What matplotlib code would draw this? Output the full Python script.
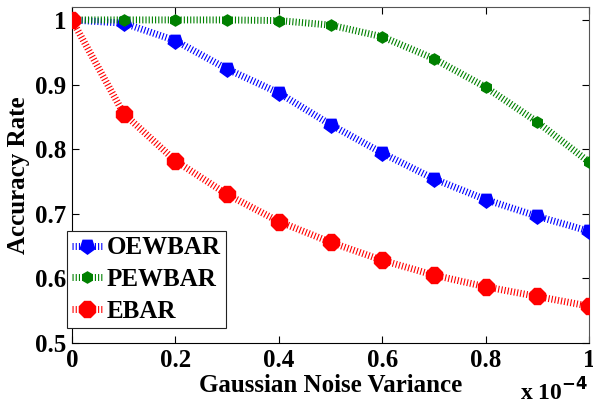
import matplotlib
matplotlib.use("Agg")
import matplotlib.pyplot as plt

# Accuracy rate against Gaussian noise variance (x 1e-4)
noise_var = [0.0, 0.1, 0.2, 0.3, 0.4, 0.5, 0.6, 0.7, 0.8, 0.9, 1.0]
oewbar = [1.000, 0.995, 0.968, 0.924, 0.887, 0.838, 0.794, 0.754, 0.722, 0.696, 0.673]
pewbar = [1.000, 1.000, 1.000, 1.000, 0.999, 0.992, 0.974, 0.940, 0.896, 0.842, 0.780]
ebar = [1.000, 0.855, 0.782, 0.730, 0.688, 0.656, 0.628, 0.605, 0.587, 0.572, 0.557]

x_ticks = [0, 0.2, 0.4, 0.6, 0.8, 1.0]
x_ticklabels = ["0", "0.2", "0.4", "0.6", "0.8", "1"]
y_ticks = [0.5, 0.6, 0.7, 0.8, 0.9, 1.0]
y_ticklabels = ["0.5", "0.6", "0.7", "0.8", "0.9", "1"]

plt.rcParams["font.family"] = ["Liberation Serif", "DejaVu Serif"]
plt.rcParams["font.weight"] = "bold"

fig = plt.figure(figsize=(5.93, 4.12), dpi=100)
ax = fig.add_axes([0.1214, 0.1675, 0.872, 0.8155])

dots = (0, (0.16, 0.3))
ax.plot(noise_var, oewbar, color="#0000ff", linestyle=dots, linewidth=5,
        dash_capstyle="butt", marker=(5, 0, 180), markersize=11,
        label="OEWBAR", zorder=3)
ax.plot(noise_var, pewbar, color="#008000", linestyle=dots, linewidth=5,
        dash_capstyle="butt", marker="h", markersize=8,
        label="PEWBAR", zorder=3)
ax.plot(noise_var, ebar, color="#ff0000", linestyle=dots, linewidth=5,
        dash_capstyle="butt", marker="8", markersize=12,
        label="EBAR", zorder=3)

ax.set_xlim(0, 1.0)
ax.set_ylim(0.5, 1.02)
ax.set_xticks(x_ticks)
ax.set_xticklabels(x_ticklabels)
ax.set_yticks(y_ticks)
ax.set_yticklabels(y_ticklabels)
ax.tick_params(direction="in", top=True, right=True, length=5,
               labelsize=18, pad=4, width=0.8)
for lbl in ax.get_xticklabels() + ax.get_yticklabels():
    lbl.set_fontweight("bold")
for side in ("top", "right"):
    ax.spines[side].set_color("#555555")

ax.set_xlabel("Gaussian Noise Variance", fontsize=18, fontweight="bold",
              labelpad=2)
ax.set_ylabel("Accuracy Rate", fontsize=18, fontweight="bold", labelpad=4)
fig.text(0.992, 0.028, r"x 10$^{\mathbf{-4}}$", ha="right", va="baseline",
         fontsize=17, fontweight="bold")

leg = ax.legend(loc="lower left", bbox_to_anchor=(-0.01, 0.045),
                fontsize=18, frameon=True, fancybox=False,
                edgecolor="#222222", framealpha=1, handlelength=1.2,
                handletextpad=0.2, borderpad=0.2, labelspacing=0.35,
                borderaxespad=0.0, prop={"weight": "bold", "size": 18})
leg.get_frame().set_linewidth(0.8)

fig.savefig("out.png", dpi=100)
